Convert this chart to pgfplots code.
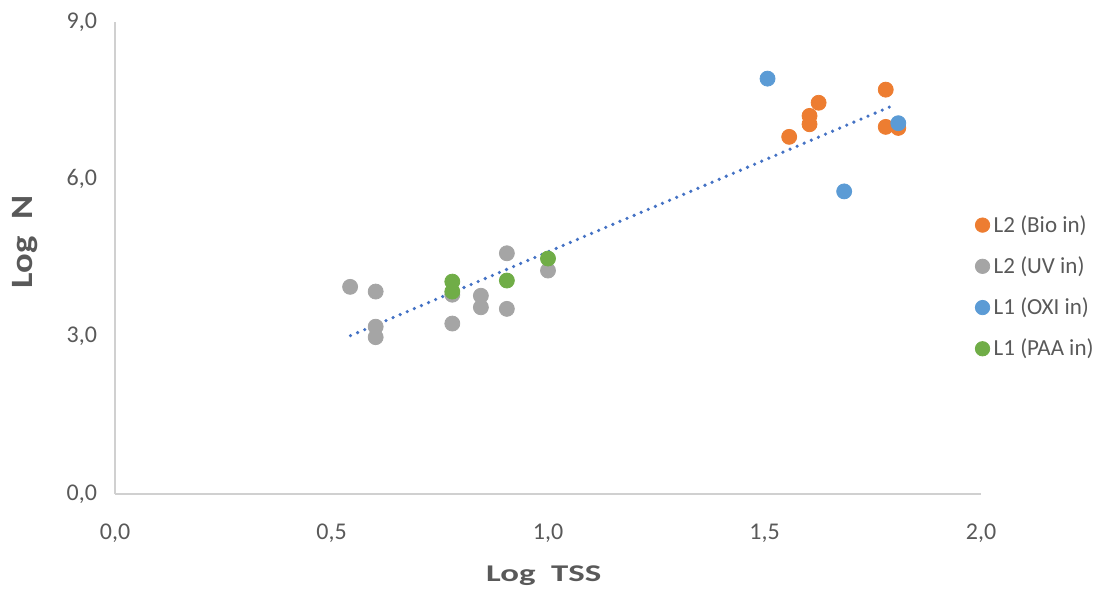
\documentclass[border=0pt]{standalone}
\usepackage{fontspec}
\setmainfont{Carlito}
\usepackage{pgfplots}
\pgfplotsset{compat=1.18}
\definecolor{cOr}{HTML}{ED7D31}
\definecolor{cGr}{HTML}{A5A5A5}
\definecolor{cBl}{HTML}{5B9BD5}
\definecolor{cGn}{HTML}{70AD47}
\definecolor{cTr}{HTML}{4472C4}
\definecolor{cTx}{HTML}{595959}
\definecolor{cAx}{HTML}{D0D0D0}
\begin{document}
\begin{tikzpicture}
\path[use as bounding box] (-57.5pt,-47.5pt) rectangle (494.5pt,247pt);
\begin{axis}[
  at={(0,0)}, anchor=south west,
  scale only axis, width=433pt, height=236pt,
  xmin=0, xmax=2, ymin=0, ymax=9,
  xtick={0,0.5,1,1.5,2}, ytick={0,3,6,9},
  axis x line*=bottom, axis y line*=left,
  axis line style={cAx, line width=0.6pt, -},
  major tick length=0pt,
  tick label style={font=\fontsize{12}{14}\selectfont, text=cTx},
  xticklabel style={yshift=-11.5pt},
  yticklabel style={xshift=-5.5pt},
  /pgf/number format/.cd, fixed, fixed zerofill, precision=1, use comma, assume math mode=true,
  /pgfplots/.cd,
  xlabel={\scalebox{1.45}[1]{Log\ \ TSS}}, ylabel={\scalebox{1.18}[1]{Log\ \ N}},
  every axis x label/.style={at={(axis description cs:0.495,-0.1864)}, anchor=base,
     font=\bfseries\fontsize{12}{14}\selectfont, text=cTx},
  every axis y label/.style={at={(axis description cs:-0.0958,0.534)}, rotate=90, anchor=base,
     font=\bfseries\fontsize{15.5}{17}\selectfont, text=cTx},
  legend style={at={(axis description cs:0.993,0.60)}, anchor=north west, draw=none, fill=none,
    font=\fontsize{11.5}{13}\selectfont, text=cTx, row sep=6.7pt, inner sep=0pt},
  legend cell align=left,
  legend image code/.code={\draw[#1, mark size=3.6pt] plot coordinates {(0.16cm,0cm)};},
  clip=false,
]
\addplot[only marks, mark=*, mark size=3.75pt, color=cOr, fill=cOr] coordinates {
(1.557,6.81) (1.604,7.05) (1.604,7.21) (1.625,7.46) (1.780,7.71) (1.780,7.00) (1.809,6.98)};
\addlegendentry{L2 (Bio in)}
\addplot[only marks, mark=*, mark size=3.75pt, color=cGr, fill=cGr] coordinates {
(0.543,3.95) (0.602,3.86) (0.602,3.19) (0.602,2.99) (0.779,3.80) (0.779,3.25)
(0.845,3.78) (0.845,3.56) (0.905,4.59) (0.905,3.53) (1.000,4.26)};
\addlegendentry{L2 (UV in)}
\addplot[only marks, mark=*, mark size=3.75pt, color=cBl, fill=cBl] coordinates {
(1.507,7.92) (1.684,5.77) (1.809,7.07)};
\addlegendentry{L1 (OXI in)}
\addplot[only marks, mark=*, mark size=3.75pt, color=cGn, fill=cGn] coordinates {
(0.779,4.05) (0.779,3.86) (0.905,4.07) (1.000,4.49)};
\addlegendentry{L1 (PAA in)}
\addplot[forget plot, cTr, line width=1.8pt, line cap=round, dash pattern=on 0pt off 3.85pt] coordinates {
(0.544,3.02) (1.792,7.39)};
\end{axis}
\end{tikzpicture}
\end{document}
